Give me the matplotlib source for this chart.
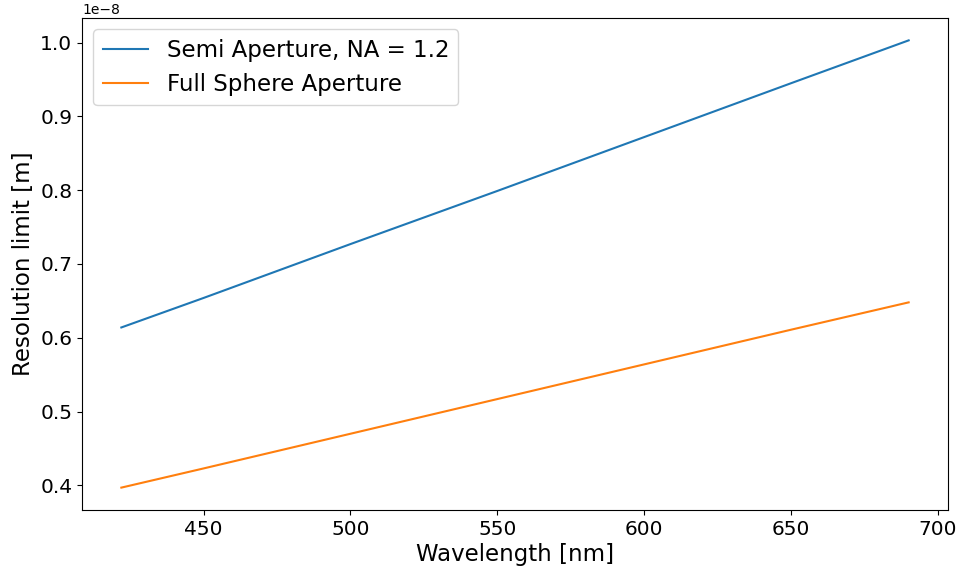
import numpy as np
import matplotlib
matplotlib.use("Agg")
import matplotlib.pyplot as plt

wavelength_nm = [422, 450, 500, 550, 600, 650, 690]
semi_aperture = [0.614e-8, 0.654e-8, 0.727e-8, 0.799e-8, 0.872e-8, 0.945e-8, 1.003e-8]
full_sphere = [0.397e-8, 0.423e-8, 0.470e-8, 0.517e-8, 0.564e-8, 0.611e-8, 0.648e-8]

fig = plt.figure(figsize=(9.61, 5.70), dpi=100)
ax = fig.add_subplot(111)
fig.subplots_adjust(left=0.0853, right=0.9865, top=0.9684, bottom=0.1053)

ax.plot(wavelength_nm, semi_aperture, color="#1f77b4", label="Semi Aperture, NA = 1.2")
ax.plot(wavelength_nm, full_sphere, color="#ff7f0e", label="Full Sphere Aperture")

ax.set_xlabel("Wavelength [nm]", fontsize=16.5, labelpad=3)
ax.set_ylabel("Resolution limit [m]", fontsize=16.5)
ax.tick_params(labelsize=14.5)
ax.yaxis.get_offset_text().set_fontsize(10)
ax.legend(fontsize=16.5, loc="upper left")

fig.savefig("out.png", dpi=100)
